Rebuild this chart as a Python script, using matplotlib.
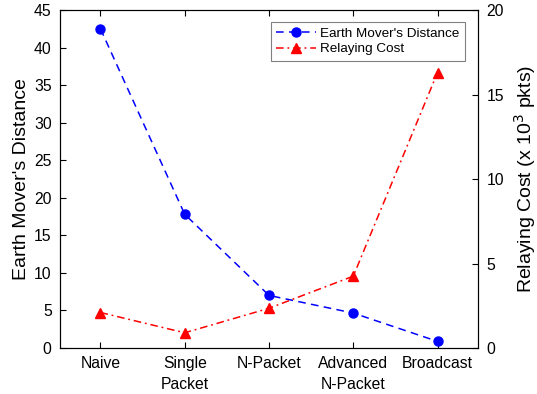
import matplotlib
matplotlib.use('Agg')
import matplotlib.pyplot as plt

plt.rcParams['font.family'] = ['Liberation Sans', 'DejaVu Sans']

# data
methods = ['Naive', 'Single\nPacket', 'N-Packet', 'Advanced\nN-Packet', 'Broadcast']
emd = [42.5, 17.8, 7.0, 4.65, 0.88]
relay_cost = [2.1, 0.9, 2.35, 4.25, 16.3]  # x 10^3 pkts

x = list(range(1, len(methods) + 1))

fig = plt.figure(figsize=(5.37, 3.94), dpi=100)
ax = fig.add_axes([60 / 537, 1 - 348 / 394, 418 / 537, 338 / 394])
ax2 = ax.twinx()

l1, = ax.plot(x, emd, color='#0000ff', marker='o', dashes=(5, 3.5),
              markersize=6.5, linewidth=1.1, label="Earth Mover's Distance")
l2, = ax2.plot(x, relay_cost, color='#ff0000', marker='^',
               dashes=(5, 2.5, 1.2, 2.5),
               markersize=7, linewidth=1.1, label='Relaying Cost')

ax.set_xlim(0.52, 5.48)
ax.set_ylim(0, 45)
ax.set_yticks(range(0, 46, 5))
ax2.set_ylim(0, 20)
ax2.set_yticks(range(0, 21, 5))
ax.set_xticks(x)
ax.set_xticklabels(methods, linespacing=1.45)

ax.tick_params(axis='both', direction='in', labelsize=11.3, length=4, top=True)
ax.tick_params(axis='x', pad=6)
ax.tick_params(axis='y', pad=6)
ax2.tick_params(axis='y', direction='in', labelsize=11.3, length=4, pad=6)

ax.set_ylabel("Earth Mover's Distance", fontsize=14, labelpad=3)
ax2.set_ylabel('Relaying Cost (x 10$^3$ pkts)', fontsize=14, labelpad=6)

leg = ax.legend(handles=[l1, l2], loc='upper right', fontsize=9.7,
                bbox_to_anchor=(0.985, 0.985), handlelength=3,
                fancybox=False, framealpha=1, borderpad=0.4,
                labelspacing=0.25, handletextpad=0.3)
leg.get_frame().set_edgecolor('#808080')
leg.get_frame().set_linewidth(0.8)

fig.savefig('out.png', dpi=100)
